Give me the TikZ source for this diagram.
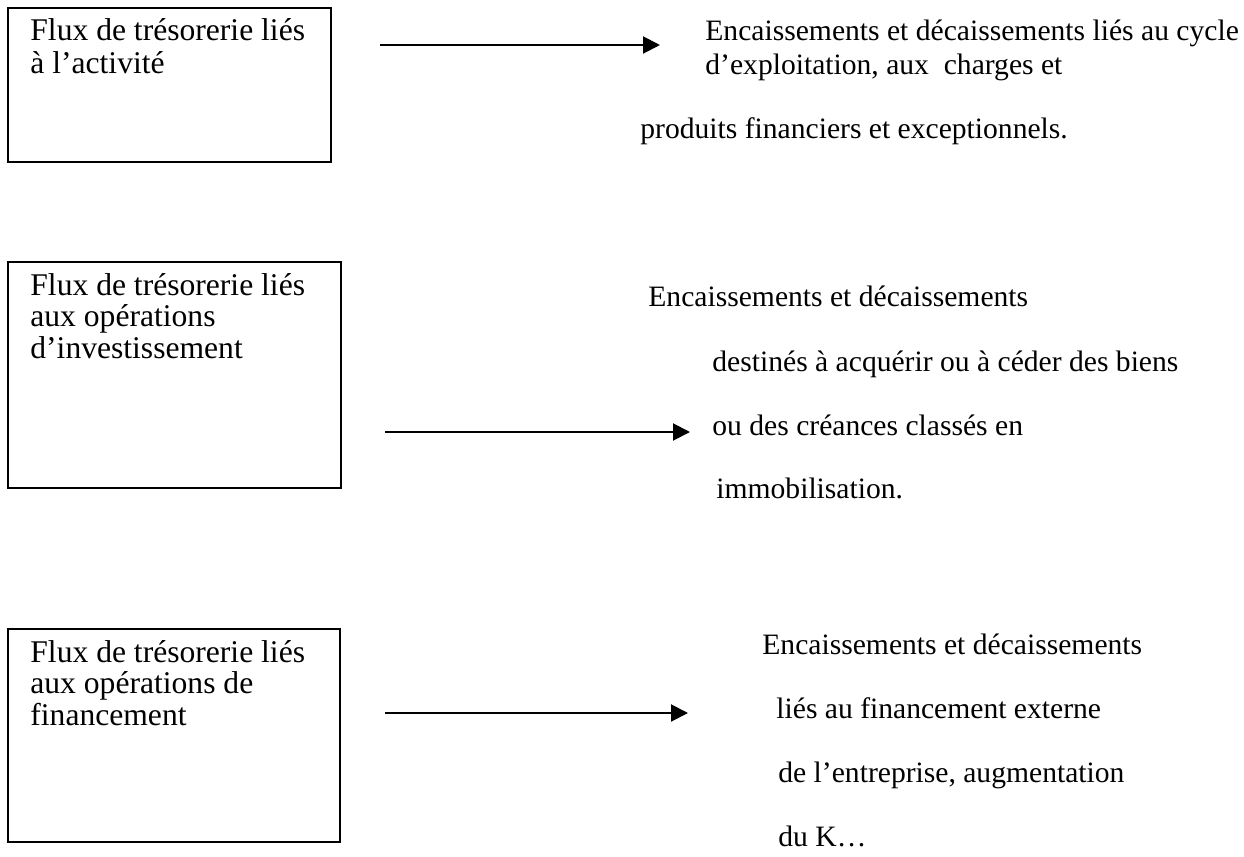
\documentclass[tikz,border=0pt]{standalone}
\usepackage{fontspec}
\setmainfont{Liberation Serif}
\usetikzlibrary{arrows.meta}

\begin{document}
\begin{tikzpicture}[x=0.5pt,y=-0.5pt,
	boite/.style={draw=black, line width=1pt, inner sep=0pt},
	gauche/.style={anchor=west, inner sep=0pt, text height=1.6ex, text depth=0.3ex, font=\fontsize{15.8}{18}\selectfont},
	droite/.style={anchor=west, inner sep=0pt, text height=1.6ex, text depth=0.3ex, font=\fontsize{14.8}{18}\selectfont},
	fleche/.style={line width=1pt, -{Triangle[length=8.5pt,width=8.5pt]}}]
	\useasboundingbox (0,0) rectangle (1244,857);

	% activite
	\node[boite, minimum width=161.5pt, minimum height=77pt] (b1) at (169.5,85) {};
	\node[gauche] (g1a) at (30,35) {Flux de trésorerie liés};
	\node[gauche] (g1b) at (30,68) {à l’activité};
	\coordinate (f1a) at (380,45);
	\coordinate (f1b) at (660,45);
	\draw[fleche] (f1a) -- (f1b);
	\node[droite] (d1a) at (705,35) {Encaissements et décaissements liés au cycle};
	\node[droite] (d1b) at (705,69) {d’exploitation, aux\ \ charges et};
	\node[droite] (d1c) at (640,133) {produits financiers et exceptionnels.};

	% investissement
	\node[boite, minimum width=166.5pt, minimum height=113pt] (b2) at (174.5,375) {};
	\node[gauche] (g2a) at (30,290) {Flux de trésorerie liés};
	\node[gauche] (g2b) at (30,321) {aux opérations};
	\node[gauche] (g2c) at (30,353) {d’investissement};
	\coordinate (f2a) at (385,432);
	\coordinate (f2b) at (690,432);
	\draw[fleche] (f2a) -- (f2b);
	\node[droite] (d2a) at (648,301) {Encaissements et décaissements};
	\node[droite] (d2b) at (712,366) {destinés à acquérir ou à céder des biens};
	\node[droite] (d2c) at (712,430) {ou des créances classés en};
	\node[droite] (d2d) at (716,493) {immobilisation.};

	% financement
	\node[boite, minimum width=166pt, minimum height=106.5pt] (b3) at (174,735.5) {};
	\node[gauche] (g3a) at (30,657) {Flux de trésorerie liés};
	\node[gauche] (g3b) at (30,688) {aux opérations de};
	\node[gauche] (g3c) at (30,720) {financement};
	\coordinate (f3a) at (385,713);
	\coordinate (f3b) at (688,713);
	\draw[fleche] (f3a) -- (f3b);
	\node[droite] (d3a) at (762,649) {Encaissements et décaissements};
	\node[droite] (d3b) at (776,713) {liés au financement externe};
	\node[droite] (d3c) at (778,777) {de l’entreprise, augmentation};
	\node[droite] (d3d) at (778,841) {du K…};
\end{tikzpicture}
\end{document}
